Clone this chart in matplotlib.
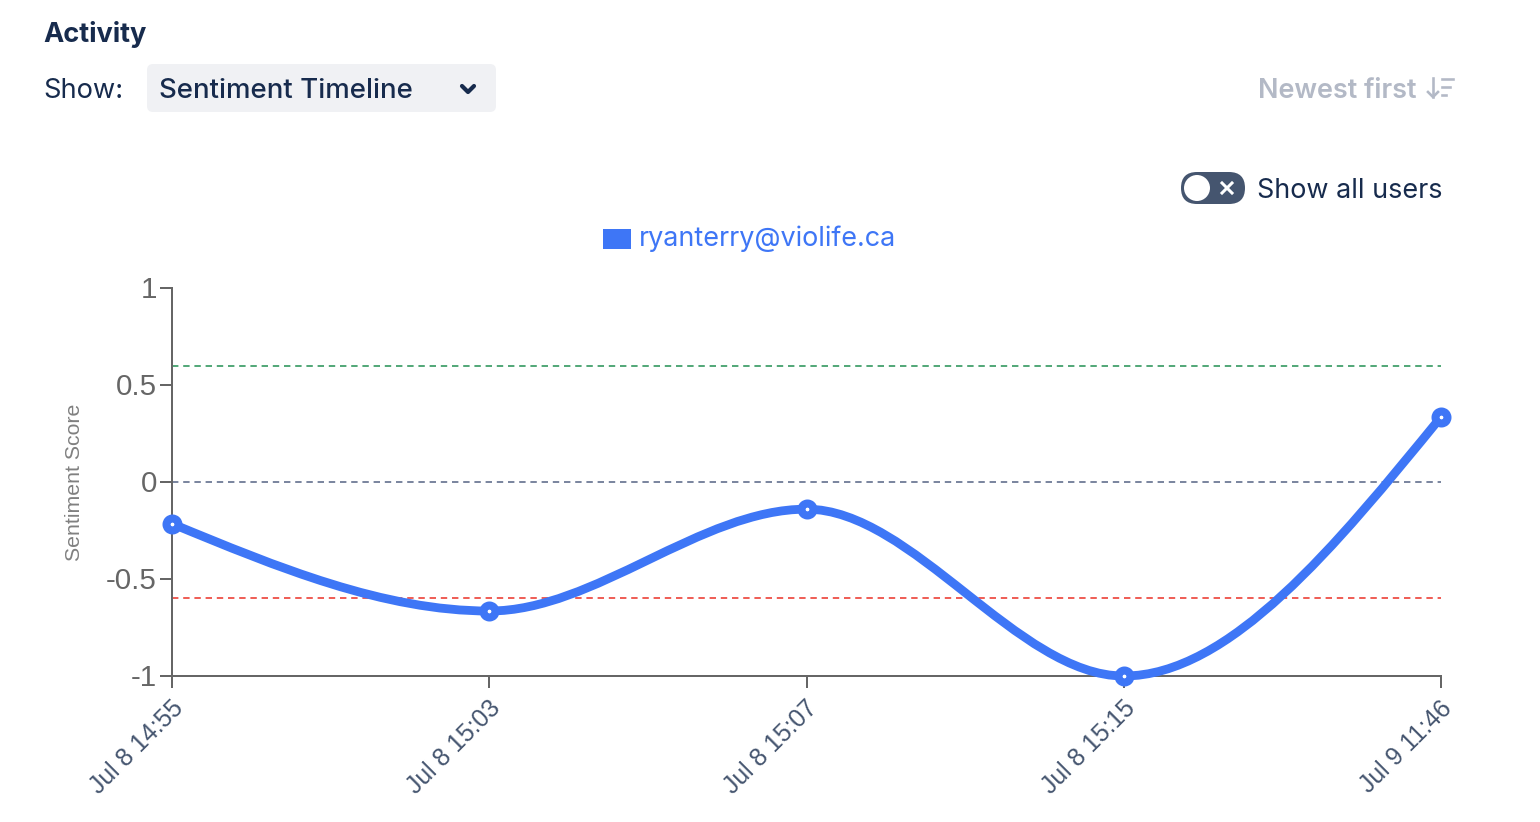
import numpy as np
import matplotlib
matplotlib.use("Agg")
import matplotlib.pyplot as plt
from matplotlib.path import Path
from matplotlib.patches import PathPatch, FancyBboxPatch, Rectangle, Circle
from matplotlib.transforms import ScaledTranslation

# ---- data ----
time_labels = ["Jul 8 14:55", "Jul 8 15:03", "Jul 8 15:07", "Jul 8 15:15", "Jul 9 11:46"]
sentiment = [-0.215, -0.665, -0.14, -1.0, 0.335]
y_ticks = [-1, -0.5, 0, 0.5, 1]
y_tick_labels = ["-1", "-0.5", "0", "0.5", "1"]
ref_levels = [0.6, 0.0, -0.6]
ref_colors = ["#55A97A", "#7C87A0", "#EF6058"]

W, H = 1540, 822
PX = 0.72  # points per pixel at dpi 100
NAVY = "#172B4D"
BLUE = "#3E76F6"
UI = ["Inter", "DejaVu Sans"]
AX = ["Liberation Sans", "DejaVu Sans"]

fig = plt.figure(figsize=(W / 100, H / 100), dpi=100, facecolor="white")

# ---- page furniture, in pixel coordinates ----
ui = fig.add_axes([0, 0, 1, 1], zorder=0)
ui.set_xlim(0, W)
ui.set_ylim(H, 0)
ui.axis("off")

ui.text(43, 34, "Activity", family=UI, fontsize=27.2 * PX, weight="bold", color=NAVY, va="center", ha="left")
ui.text(43.5, 90.5, "Show:", family=UI, fontsize=27.3 * PX, color=NAVY, va="center", ha="left")
ui.add_patch(FancyBboxPatch((153, 70), 337, 36, boxstyle="round,pad=6,rounding_size=6",
                            fc="#F0F1F4", ec="none"))
ui.text(159, 90.5, "Sentiment Timeline", family=UI, fontsize=27.6 * PX, weight="medium", color=NAVY,
        va="center", ha="left")
ui.plot([462, 468, 474], [86, 92, 86], color=NAVY, lw=4.2 * PX, solid_capstyle="round", solid_joinstyle="round")

ui.text(1258, 90.5, "Newest first", family=UI, fontsize=27 * PX, weight="semibold", color="#B3B9C6",
        va="center", ha="left")
ui.plot([1433, 1433], [78, 97], color="#B3B9C6", lw=2.6 * PX)
ui.plot([1428, 1433, 1438], [92, 97, 92], color="#B3B9C6", lw=2.6 * PX)
for x0, x1, y0 in [(1442, 1453, 79), (1442, 1450, 87), (1442, 1446, 95)]:
    ui.plot([x0, x1], [y0, y0], color="#B3B9C6", lw=2.6 * PX)

ui.add_patch(FancyBboxPatch((1197, 188), 32, 0, boxstyle="round,pad=16,rounding_size=16",
                            fc="#45556F", ec="none"))
ui.add_patch(Circle((1197, 188), 13, fc="white", ec="none"))
ui.plot([1222, 1232], [183, 193], color="white", lw=3 * PX)
ui.plot([1222, 1232], [193, 183], color="white", lw=3 * PX)
ui.text(1257, 190.5, "Show all users", family=UI, fontsize=27 * PX, color=NAVY, va="center", ha="left")

ui.add_patch(Rectangle((603, 229), 28, 20, fc=BLUE, ec="none"))
ui.text(639, 239, "ryanterry@violife.ca", family=UI, fontsize=27 * PX, color=BLUE, va="center", ha="left")

# ---- chart ----
ax = fig.add_axes([172 / W, 1 - 676 / H, (1441 - 172) / W, (676 - 288) / H], zorder=1, facecolor="none")
x = np.arange(len(sentiment), dtype=float)
y = np.array(sentiment, dtype=float)
ax.set_xlim(x[0], x[-1])
ax.set_ylim(-1, 1)

for level, colour in zip(ref_levels, ref_colors):
    ax.axhline(level, color=colour, lw=2 * PX, dashes=(3.2, 2.4), zorder=1)

# monotone cubic through the data points
s = np.diff(y) / np.diff(x)
t = np.zeros_like(y)
for i in range(1, len(y) - 1):
    p = (s[i - 1] + s[i]) / 2
    t[i] = (np.sign(s[i - 1]) + np.sign(s[i])) * min(abs(s[i - 1]), abs(s[i]), 0.5 * abs(p))
t[0] = (3 * s[0] - t[1]) / 2
t[-1] = (3 * s[-1] - t[-2]) / 2
verts = [(x[0], y[0])]
codes = [Path.MOVETO]
for i in range(len(y) - 1):
    dx = (x[i + 1] - x[i]) / 3
    verts += [(x[i] + dx, y[i] + t[i] * dx), (x[i + 1] - dx, y[i + 1] - t[i + 1] * dx), (x[i + 1], y[i + 1])]
    codes += [Path.CURVE4] * 3
ax.add_patch(PathPatch(Path(verts, codes), fc="none", ec=BLUE, lw=8.8 * PX, capstyle="round",
                       joinstyle="round", clip_on=False, zorder=3))
ax.plot(x, y, ls="none", marker="o", ms=12 * PX, mfc="white", mec=BLUE, mew=8 * PX, clip_on=False, zorder=4)

for side in ("top", "right"):
    ax.spines[side].set_visible(False)
for side in ("left", "bottom"):
    ax.spines[side].set_color("#666666")
    ax.spines[side].set_linewidth(2 * PX)
    ax.spines[side].set_zorder(2)

ax.set_yticks(y_ticks)
ax.set_yticklabels(y_tick_labels, family=AX, fontsize=29.5 * PX, color="#666666")
ax.tick_params(axis="y", length=12 * PX, width=2 * PX, color="#666666", pad=3 * PX)
ax.set_xticks(x)
ax.set_xticklabels(time_labels, family=AX, fontsize=24.7 * PX, color="#45556F", rotation=45,
                   ha="right", va="top", rotation_mode="anchor")
ax.tick_params(axis="x", length=12 * PX, width=2 * PX, color="#666666", pad=7 * PX)
shift_x = ScaledTranslation(-1 / 100, -1 / 100, fig.dpi_scale_trans)
for lab in ax.get_xticklabels():
    lab.set_transform(lab.get_transform() + shift_x)
shift_y = ScaledTranslation(0, 1 / 100, fig.dpi_scale_trans)
for lab in ax.get_yticklabels():
    lab.set_transform(lab.get_transform() + shift_y)
ui.text(74.5, 482, "Sentiment Score", family=AX, fontsize=21.3 * PX, color="#808080", rotation=90,
        va="center", ha="center")

fig.savefig("out.png", dpi=100)
